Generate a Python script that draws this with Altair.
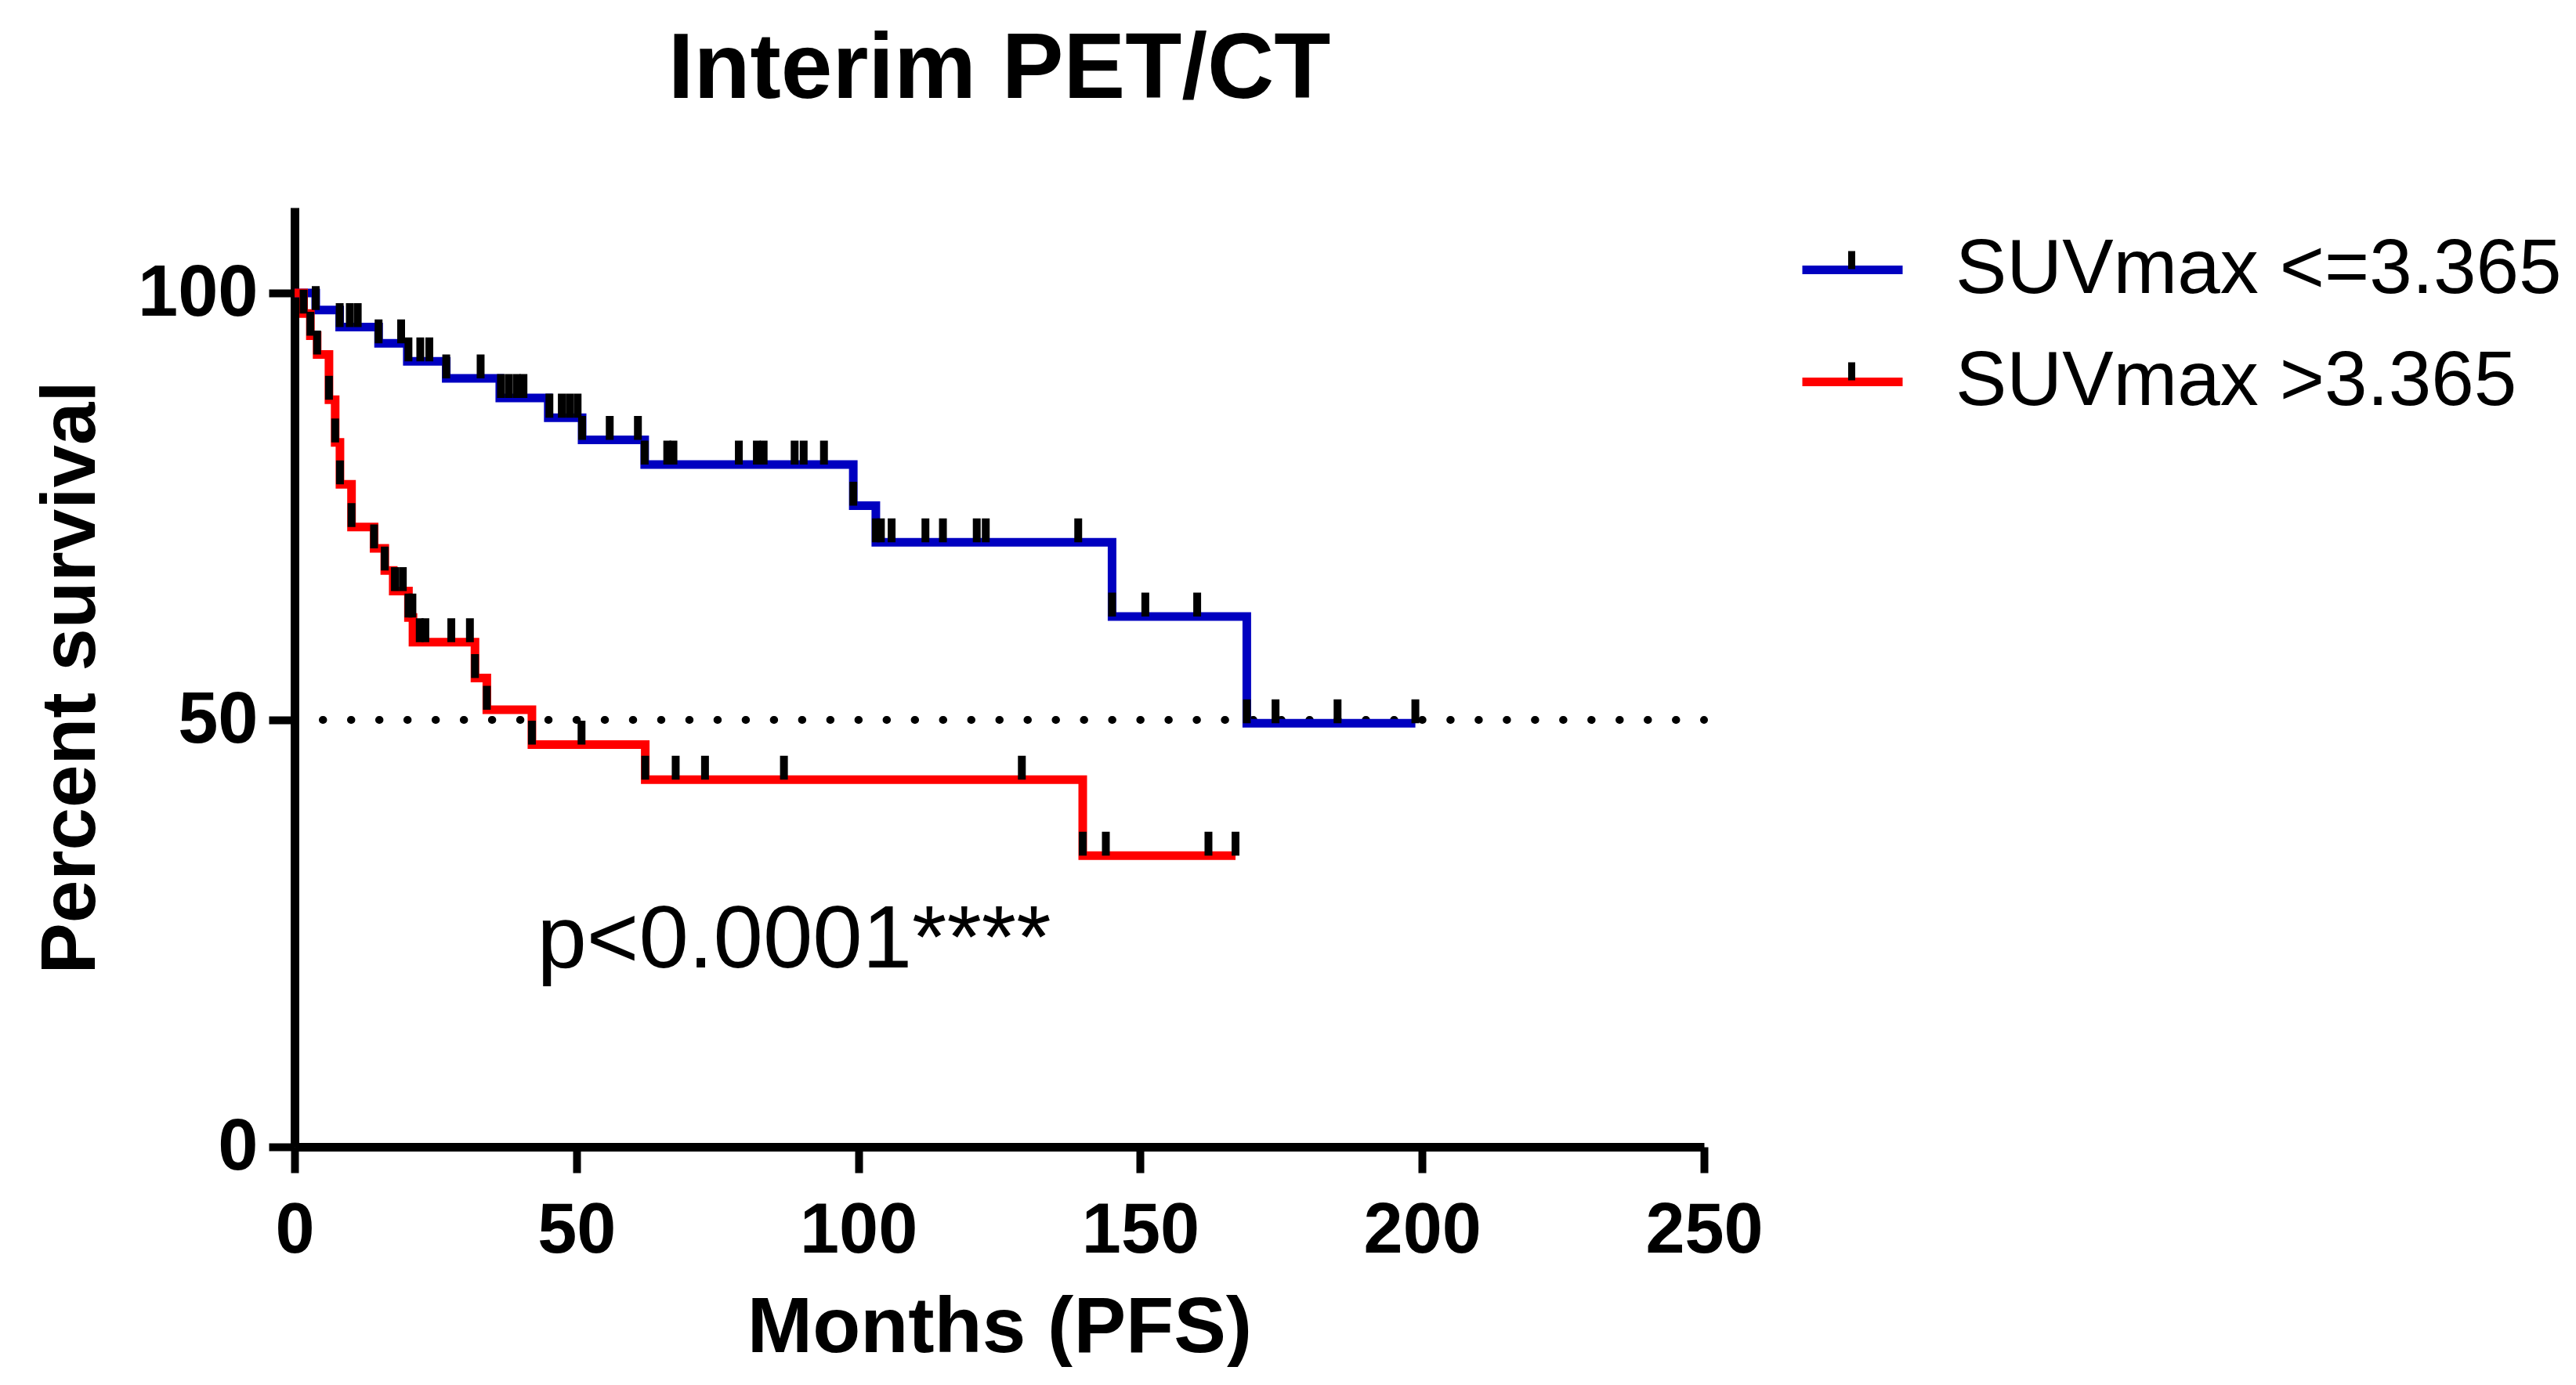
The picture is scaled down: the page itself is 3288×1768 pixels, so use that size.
import altair as alt
import pandas as pd

# ---------------- data ----------------
group_low = "SUVmax <=3.365"
group_high = "SUVmax >3.365"

# Kaplan-Meier steps (month, percent survival); last point = end of follow-up
low_months = [0, 3.75, 8.0, 14.9, 20.0, 26.9, 36.4, 45.0, 51.0, 62.1, 99.1, 103.1, 145.0, 168.9, 198.8]
low_surv = [100, 98.0, 96.0, 94.1, 92.0, 90.0, 87.7, 85.4, 82.8, 79.9, 75.1, 70.8, 62.1, 49.6, 49.6]

high_months = [0, 1.6, 2.8, 4.0, 6.1, 7.2, 8.05, 10.1, 14.1, 16.0, 17.5, 20.2, 21.0, 32.0, 34.1, 42.1, 62.2, 139.8, 166.9]
high_surv = [100, 97.6, 95.0, 92.8, 87.5, 82.5, 77.6, 72.6, 70.1, 67.5, 65.1, 62.0, 59.1, 54.9, 51.2, 47.1, 43.0, 34.1, 34.1]

# censored observations (months)
low_censored = [3.75, 8.0, 9.8, 11.2, 14.9, 18.9, 20.2, 22.3, 23.9, 26.9, 33.0, 36.6, 38.0, 39.4, 40.6,
                45.2, 47.4, 48.8, 50.2, 51.0, 55.9, 60.9, 62.1, 66.1, 67.2, 78.8, 82.0, 83.2, 88.7,
                90.3, 93.9, 99.1, 103.1, 104.0, 105.9, 111.9, 115.0, 121.0, 122.6, 139.0, 145.0,
                150.9, 160.1, 168.9, 174.0, 185.0, 198.8]
high_censored = [1.6, 2.8, 4.0, 6.1, 7.2, 8.05, 10.1, 14.1, 16.0, 17.8, 19.2, 20.2, 20.9, 22.2, 23.2,
                 27.8, 31.1, 32.0, 34.1, 42.1, 50.9, 62.2, 67.6, 72.8, 86.8, 129.0, 139.8, 143.9,
                 162.1, 166.9]

median_level = [50]
x_ticks = [0, 50, 100, 150, 200, 250]
y_ticks = [0, 50, 100]
p_text = ["p<0.0001****"]
p_pos_month = [43]
p_pos_pct = [21]

# ---------------- tables ----------------
def level_at(months, surv, t):
    lev = surv[0]
    for m, s in zip(months, surv):
        if m <= t + 1e-9:
            lev = s
    return lev

curves = pd.DataFrame(
    [{"month": m, "pct": s, "group": group_low} for m, s in zip(low_months, low_surv)]
    + [{"month": m, "pct": s, "group": group_high} for m, s in zip(high_months, high_surv)]
)
cens = pd.DataFrame(
    [{"month": t, "pct": level_at(low_months, low_surv, t), "group": group_low} for t in low_censored]
    + [{"month": t, "pct": level_at(high_months, high_surv, t), "group": group_high} for t in high_censored]
)
median_df = pd.DataFrame({"x": [x_ticks[0]], "x2": [x_ticks[-1]], "y": median_level})
text_df = pd.DataFrame({"month": p_pos_month, "pct": p_pos_pct, "label": p_text})

FONT = "Liberation Sans"
GROUPS = [group_low, group_high]
TICK_KEYS = ["a", "b"]
xscale = alt.Scale(domain=[0, 250], nice=False)
yscale = alt.Scale(domain=[0, 110], nice=False)

xaxis = alt.Axis(title="Months (PFS)", values=x_ticks, labelPadding=30, titlePadding=30,
                 titleFontSize=100, labelFontSize=90, labelFlush=False)
yaxis = alt.Axis(title="Percent survival", values=y_ticks, labelPadding=14, titlePadding=35,
                 titleFontSize=98, labelFontSize=92)

LEG_X, LEG_Y, ROW_PAD = 1919, 10, 24

median_line = alt.Chart(median_df).mark_rule(
    color="black", strokeWidth=10, strokeDash=[0.5, 35.48], strokeCap="round"
).encode(
    x=alt.X("x:Q", scale=xscale, axis=xaxis),
    x2="x2:Q",
    y=alt.Y("y:Q", scale=yscale, axis=yaxis),
)

lines = alt.Chart(curves).mark_line(interpolate="step-after", strokeWidth=11, strokeJoin="miter").encode(
    x=alt.X("month:Q", scale=xscale, axis=xaxis),
    y=alt.Y("pct:Q", scale=yscale, axis=yaxis),
    color=alt.Color(
        "group:N",
        scale=alt.Scale(domain=GROUPS, range=["#0000C0", "#FF0000"]),
        legend=alt.Legend(
            title=None, orient="none", legendX=LEG_X, legendY=LEG_Y, padding=0,
            symbolType="M-1,0H1", symbolSize=16384, symbolStrokeWidth=11,
            labelFontSize=98, labelFont=FONT, labelColor="black", labelOffset=62,
            rowPadding=ROW_PAD, labelLimit=2000,
        ),
    ),
)

# black censor marks; their own label-less legend sits on top of the colour legend
ticks = alt.Chart(cens).mark_rule(color="black", strokeWidth=10).transform_calculate(
    top="datum.pct + 2.8",
    tickkey=f"datum.group == '{group_low}' ? 'a' : 'b'",
).encode(
    x=alt.X("month:Q", scale=xscale),
    y=alt.Y("pct:Q", scale=yscale),
    y2="top:Q",
    strokeDash=alt.StrokeDash(
        "tickkey:N",
        scale=alt.Scale(domain=TICK_KEYS, range=[[1, 0], [1, 0]]),
        legend=alt.Legend(
            title=None, orient="none", legendX=LEG_X, legendY=LEG_Y, padding=0,
            symbolType="M0,0V-0.36", symbolSize=16384, symbolStrokeWidth=9,
            symbolStrokeColor="black", symbolDash=[1, 0],
            labelExpr="''", labelFontSize=98, labelOffset=0, rowPadding=ROW_PAD,
        ),
    ),
)

ptext = alt.Chart(text_df).mark_text(
    align="left", baseline="alphabetic", fontSize=114, font=FONT, color="black"
).encode(
    x=alt.X("month:Q", scale=xscale),
    y=alt.Y("pct:Q", scale=yscale),
    text="label:N",
)

chart = alt.layer(median_line, lines, ticks, ptext).properties(
    width=1799,
    height=1199,
    padding={"left": 34, "top": 23, "right": 5, "bottom": 0},
    title=alt.TitleParams("Interim PET/CT", fontSize=118, fontWeight="bold", font=FONT,
                          color="black", anchor="middle", offset=115),
    background="white",
).configure_view(stroke=None).configure_axis(
    domainColor="black", domainWidth=11, tickColor="black", tickWidth=10, tickSize=33,
    labelFont=FONT, labelFontWeight="bold", labelColor="black",
    titleFont=FONT, titleFontWeight="bold", titleColor="black", grid=False,
)

chart.save("out.html", embed_options={"renderer": "svg", "actions": False})
